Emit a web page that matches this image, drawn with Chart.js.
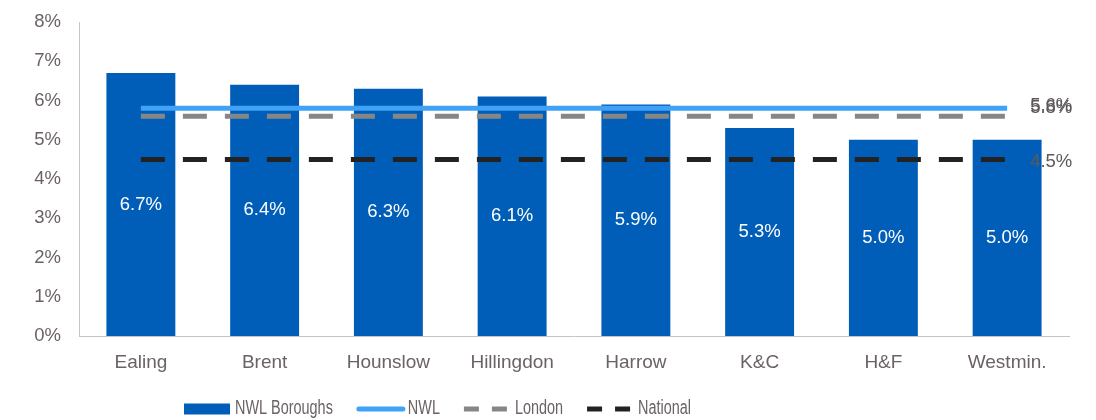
<!DOCTYPE html>
<html>
<head>
<meta charset="utf-8">
<title>NWL Boroughs</title>
<script src="https://cdn.jsdelivr.net/npm/chart.js@4/dist/chart.umd.min.js"></script>
<style>
  html, body { margin: 0; padding: 0; background: #ffffff; }
  #wrap { width: 1096px; height: 420px; }
</style>
</head>
<body>
<div id="wrap"><canvas id="chart" width="1096" height="420"></canvas></div>
<script>
// Boroughs along the x axis
const boroughs = ['Ealing', 'Brent', 'Hounslow', 'Hillingdon', 'Harrow', 'K&C', 'H&F', 'Westmin.'];
// Rate per borough (%)
const boroughRates = [6.7, 6.4, 6.3, 6.1, 5.9, 5.3, 5.0, 5.0];
// Benchmark rates (%)
const nwlRate = 5.8;
const londonRate = 5.6;
const nationalRate = 4.5;
// Y axis tick labels
const yTickValues = [0, 1, 2, 3, 4, 5, 6, 7, 8];

const TEXT = '#6b6264';
const FONT = "'Liberation Sans', Arial, sans-serif";
const BAR_BLUE = '#005eb8';
const NWL_BLUE = '#3fa2f7';
const LONDON_GREY = '#868686';
const NATIONAL_BLACK = '#222222';

const fmt = v => v.toFixed(1) + '%';
const flat = v => boroughs.map(() => v);

// White value labels in the middle of each bar, benchmark labels at line ends
const valueLabels = {
  id: 'valueLabels',
  afterDatasetsDraw(chart) {
    const ctx = chart.ctx;
    ctx.save();
    ctx.font = '18.5px ' + FONT;
    chart.data.datasets.forEach((ds, i) => {
      const meta = chart.getDatasetMeta(i);
      if (ds.type === 'bar') {
        ctx.fillStyle = '#ffffff';
        ctx.textAlign = 'center';
        ctx.textBaseline = 'middle';
        meta.data.forEach((el, j) => {
          ctx.fillText(fmt(ds.data[j]), el.x, (el.y + el.base) / 2);
        });
      } else {
        const last = meta.data[meta.data.length - 1];
        ctx.fillStyle = '#5f5859';
        ctx.textAlign = 'left';
        ctx.textBaseline = 'middle';
        ctx.fillText(fmt(ds.data[ds.data.length - 1]), last.x + 23, last.y + (ds.labelShift || 0));
      }
    });
    ctx.restore();
  }
};

// Legend row along the bottom edge
const bottomLegend = {
  id: 'bottomLegend',
  afterDraw(chart) {
    const ctx = chart.ctx;
    const y = 409;
    const swatchW = 46, gap = 5, spacing = 24, squeeze = 0.74;
    let x = 184;
    ctx.save();
    ctx.font = '19.5px ' + FONT;
    ctx.textBaseline = 'middle';
    chart.data.datasets.forEach(ds => {
      if (ds.type === 'bar') {
        ctx.fillStyle = ds.backgroundColor;
        ctx.fillRect(x, y - 5.5, swatchW, 11);
      } else {
        ctx.strokeStyle = ds.borderColor;
        ctx.lineWidth = 5;
        if (ds.borderDash) {
          ctx.lineCap = 'butt';
          ctx.setLineDash([15, 13]);
          ctx.beginPath();
          ctx.moveTo(x, y);
          ctx.lineTo(x + swatchW - 2, y);
          ctx.stroke();
        } else {
          ctx.lineCap = 'round';
          ctx.setLineDash([]);
          ctx.beginPath();
          ctx.moveTo(x + 2, y);
          ctx.lineTo(x + swatchW, y);
          ctx.stroke();
        }
        ctx.setLineDash([]);
      }
      x += swatchW + gap;
      ctx.fillStyle = TEXT;
      const w = ctx.measureText(ds.label).width * squeeze;
      ctx.save();
      ctx.translate(x, y);
      ctx.scale(squeeze, 1);
      ctx.fillText(ds.label, 0, 0);
      ctx.restore();
      x += w + spacing;
    });
    ctx.restore();
  }
};

new Chart(document.getElementById('chart'), {
  data: {
    labels: boroughs,
    datasets: [
      {
        type: 'bar',
        label: 'NWL Boroughs',
        data: boroughRates,
        backgroundColor: BAR_BLUE,
        borderWidth: 0,
        categoryPercentage: 1,
        barPercentage: 0.557,
        order: 4
      },
      {
        type: 'line',
        label: 'NWL',
        data: flat(nwlRate),
        borderColor: NWL_BLUE,
        borderWidth: 5,
        pointRadius: 0,
        fill: false,
        order: 1
      },
      {
        type: 'line',
        label: 'London',
        data: flat(londonRate),
        borderColor: LONDON_GREY,
        borderWidth: 5,
        borderDash: [24, 18],
        pointRadius: 0,
        fill: false,
        labelShift: -10,
        order: 2
      },
      {
        type: 'line',
        label: 'National',
        data: flat(nationalRate),
        borderColor: NATIONAL_BLACK,
        borderWidth: 5,
        borderDash: [24, 18],
        pointRadius: 0,
        fill: false,
        labelShift: 3,
        order: 3
      }
    ]
  },
  options: {
    responsive: false,
    animation: false,
    layout: { padding: { top: 22, right: 27, left: 0, bottom: 0 } },
    plugins: {
      legend: { display: false },
      tooltip: { enabled: false }
    },
    scales: {
      x: {
        grid: { display: false, drawTicks: false },
        border: { display: true, color: '#c4c4c4', width: 1 },
        ticks: { color: TEXT, font: { family: FONT, size: 19 }, padding: 15 },
        afterFit(scale) { scale.height = 84; }
      },
      y: {
        min: yTickValues[0],
        max: yTickValues[yTickValues.length - 1],
        afterBuildTicks(scale) { scale.ticks = yTickValues.map(v => ({ value: v })); },
        grid: { display: false, drawTicks: false },
        border: { display: true, color: '#c4c4c4', width: 1 },
        ticks: {
          color: TEXT,
          font: { family: FONT, size: 18.5 },
          padding: 18,
          callback: v => v + '%'
        },
        afterFit(scale) {
          scale.width = 79;
          scale.paddingTop = 0;
          scale.paddingBottom = 0;
        }
      }
    }
  },
  plugins: [valueLabels, bottomLegend]
});
</script>
</body>
</html>
